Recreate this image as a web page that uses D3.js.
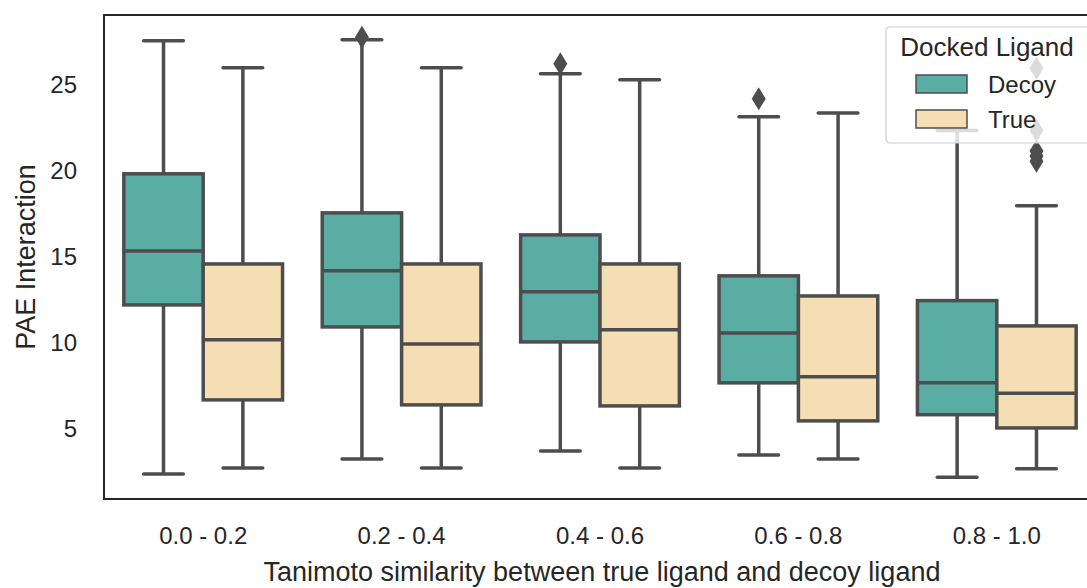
<!DOCTYPE html>
<html>
<head>
<meta charset="utf-8">
<script src="https://cdn.jsdelivr.net/npm/d3@7"></script>
<style>
  body { margin: 0; background: #fff; }
  svg { display: block; font-family: "Liberation Sans", Arial, sans-serif; }
</style>
</head>
<body>
<div id="chart"></div>
<script>
var categories = ['0.0 - 0.2', '0.2 - 0.4', '0.4 - 0.6', '0.6 - 0.8', '0.8 - 1.0'];
var seriesNames = ['Decoy', 'True'];
var seriesColors = ['#5aada3', '#f5deb3'];

// box stats per category: [lowWhisker, q1, median, q3, highWhisker]
var decoyStats = [
    [2.33, 12.15, 15.29, 19.77, 27.5],
    [3.2, 10.87, 14.13, 17.5, 27.56],
    [3.66, 10.0, 12.91, 16.22, 25.58],
    [3.43, 7.62, 10.52, 13.84, 23.08],
    [2.13, 5.77, 7.63, 12.4, 22.28]
];
var trueStats = [
    [2.67, 6.63, 10.12, 14.53, 25.93],
    [2.67, 6.34, 9.88, 14.53, 25.93],
    [2.67, 6.28, 10.7, 14.53, 25.23],
    [3.2, 5.41, 7.97, 12.67, 23.31],
    [2.63, 5.0, 7.02, 10.93, 17.91]
];
var decoyOutliers = [[], [27.7], [26.16], [24.13], []];
var trueOutliers = [[], [], [], [], [25.9, 22.3, 21.1, 20.8, 20.5]];
var yTicks = [5, 10, 15, 20, 25];

var width = 1087, height = 588;
var margin = {top: 15, right: -9, bottom: 89, left: 104};
var lineColor = '#4d4d4d';
var lw = 3.5;

var svg = d3.select('#chart').append('svg')
    .attr('width', width)
    .attr('height', height);

var x = d3.scaleBand()
    .domain(categories)
    .range([margin.left, width - margin.right])
    .paddingInner(0)
    .paddingOuter(0);

var sub = d3.scaleBand()
    .domain(seriesNames)
    .range([x.bandwidth() * 0.1, x.bandwidth() * 0.9]);

var y = d3.scaleLinear()
    .domain([0.87, 29.0])
    .range([height - margin.bottom, margin.top]);

// axes
var yAxis = svg.append('g')
    .attr('transform', 'translate(' + margin.left + ',0)')
    .call(d3.axisLeft(y).tickValues(yTicks).tickSize(0).tickPadding(27));
yAxis.select('.domain').remove();
yAxis.selectAll('text').style('font-size', '24px').style('fill', '#262626')
    .attr('dy', '0.36em');

var xAxis = svg.append('g')
    .attr('transform', 'translate(0,' + (height - margin.bottom) + ')')
    .call(d3.axisBottom(x).tickSize(0).tickPadding(28));
xAxis.select('.domain').remove();
xAxis.selectAll('text').style('font-size', '24px').style('fill', '#262626');

var allStats = [decoyStats, trueStats];
var allOutliers = [decoyOutliers, trueOutliers];

var plot = svg.append('g');

seriesNames.forEach(function(name, si) {
    var g = plot.selectAll('.box-' + si)
        .data(categories)
        .enter()
        .append('g')
        .attr('transform', function(d) { return 'translate(' + (x(d) + sub(name)) + ',0)'; });

    var bw = sub.bandwidth();
    var cx = bw / 2;

    g.each(function(cat, ci) {
        var s = allStats[si][ci];
        var node = d3.select(this);
        // whiskers
        node.append('line')
            .attr('x1', cx).attr('x2', cx)
            .attr('y1', y(s[0])).attr('y2', y(s[1]))
            .style('stroke', lineColor).style('stroke-width', lw);
        node.append('line')
            .attr('x1', cx).attr('x2', cx)
            .attr('y1', y(s[3])).attr('y2', y(s[4]))
            .style('stroke', lineColor).style('stroke-width', lw);
        // caps
        [s[0], s[4]].forEach(function(v) {
            node.append('line')
                .attr('x1', cx - bw * 0.25).attr('x2', cx + bw * 0.25)
                .attr('y1', y(v)).attr('y2', y(v))
                .style('stroke', lineColor).style('stroke-width', lw)
                .style('stroke-linecap', 'round');
        });
        // box
        node.append('rect')
            .attr('x', 0).attr('width', bw)
            .attr('y', y(s[3])).attr('height', y(s[1]) - y(s[3]))
            .style('fill', seriesColors[si])
            .style('stroke', lineColor).style('stroke-width', lw);
        // median
        node.append('line')
            .attr('x1', 0).attr('x2', bw)
            .attr('y1', y(s[2])).attr('y2', y(s[2]))
            .style('stroke', lineColor).style('stroke-width', lw);
        // outliers
        node.selectAll('.flier')
            .data(allOutliers[si][ci])
            .enter()
            .append('path')
            .attr('class', 'flier')
            .attr('d', 'M0,-11.5L7,0L0,11.5L-7,0Z')
            .attr('transform', function(v) { return 'translate(' + cx + ',' + y(v) + ')'; })
            .style('fill', lineColor);
    });
});

// frame
svg.append('rect')
    .attr('x', margin.left)
    .attr('y', margin.top)
    .attr('width', width - margin.right - margin.left)
    .attr('height', height - margin.bottom - margin.top)
    .style('fill', 'none')
    .style('stroke', '#262626')
    .style('stroke-width', 2);

// axis labels
svg.append('text')
    .attr('x', 602)
    .attr('y', 581)
    .attr('text-anchor', 'middle')
    .style('font-size', '27px')
    .style('fill', '#262626')
    .text('Tanimoto similarity between true ligand and decoy ligand');

svg.append('text')
    .attr('transform', 'translate(35,' + 257 + ') rotate(-90)')
    .attr('text-anchor', 'middle')
    .style('font-size', '27px')
    .style('fill', '#262626')
    .text('PAE Interaction');

// legend
var legend = svg.append('g').attr('transform', 'translate(886,27)');
legend.append('rect')
    .attr('width', 205).attr('height', 116)
    .attr('rx', 4)
    .style('fill', '#fff').style('fill-opacity', 0.8)
    .style('stroke', '#cccccc').style('stroke-width', 1.2);
legend.append('text')
    .attr('x', 101).attr('y', 29)
    .attr('text-anchor', 'middle')
    .style('font-size', '26px').style('fill', '#262626')
    .text('Docked Ligand');
seriesNames.forEach(function(name, i) {
    legend.append('rect')
        .attr('x', 30).attr('y', 48 + i * 35)
        .attr('width', 51).attr('height', 18)
        .style('fill', seriesColors[i])
        .style('stroke', lineColor).style('stroke-width', 1.5);
    legend.append('text')
        .attr('x', 102).attr('y', 66 + i * 35)
        .style('font-size', '24px').style('fill', '#262626')
        .text(name);
});
</script>
</body>
</html>
